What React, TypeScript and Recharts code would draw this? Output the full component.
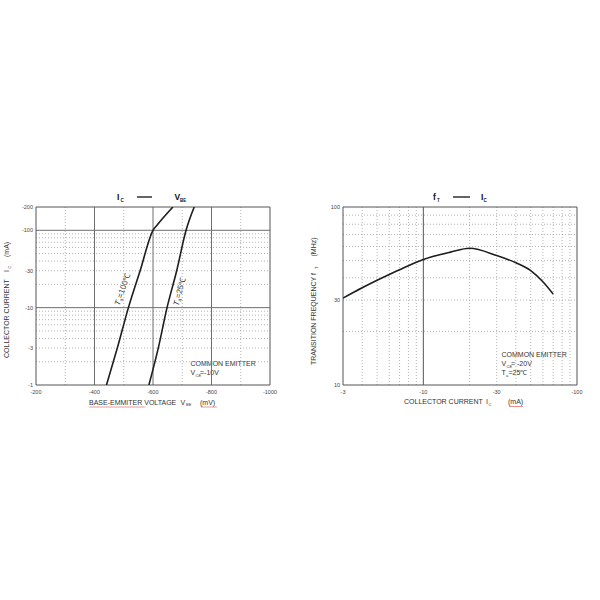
import React from 'react';
import { LineChart, Line, XAxis, YAxis, ReferenceLine } from 'recharts';

// ---------- Left chart: IC vs VBE (magnitudes; labels shown negative) ----------
const vbeTicks = [200, 400, 600, 800, 1000];
const icTicksLeft = [1, 3, 10, 30, 100, 200];
const ta100Vbe = [441, 478, 516, 556, 600, 615, 635, 668];
const ta100Ic = [1, 3, 10, 30, 100, 118, 145, 200];
const ta25Vbe = [586, 618, 648, 681, 713, 741];
const ta25Ic = [1, 3, 10, 30, 100, 200];
const leftMajorV = [400, 600, 800];
const leftMinorV = [300, 500, 700, 900];
const leftMajorH = [10, 100];
const leftMinorH = [2, 3, 4, 5, 6, 7, 8, 9, 20, 30, 40, 50, 60, 70, 80, 90];

// ---------- Right chart: fT vs IC ----------
const icTicksRight = [3, 10, 30, 100];
const ftTicks = [10, 30, 100];
const ftIc = [3, 4, 5, 6, 7, 8, 9, 10, 15, 20, 30, 40, 50, 60, 70];
const ftVals = [30.8, 35.2, 38.8, 41.8, 44.4, 46.8, 48.9, 50.7, 55.8, 58.6, 53.4, 48.6, 43.9, 38, 32.4];
const rightMajorV = [10];
const rightMinorV = [4, 5, 6, 7, 8, 9, 20, 30, 40, 50, 60, 70, 80, 90];
const rightMinorH = [20, 30, 40, 50, 60, 70, 80, 90];

const ta100Data = ta100Vbe.map((v, i) => ({ v, ic: ta100Ic[i] }));
const ta25Data = ta25Vbe.map((v, i) => ({ v, ic: ta25Ic[i] }));
const ftData = ftIc.map((ic, i) => ({ ic, ft: ftVals[i] }));

const FONT = '"Liberation Sans", Arial, sans-serif';
const neg = (v: number) => '-' + v;
const tickStyle = { fontSize: 5.5, fill: '#444', fontFamily: FONT };
const MINOR = '#a0a0a0';
const MAJOR = '#6e6e6e';
const FRAME = '#555';

const T = (props: any) => (
  <text fontFamily={FONT} fill="#333" fontSize={7} {...props} />
);

function LeftChart() {
  return (
    <LineChart width={290} height={220} margin={{ top: 17, right: 20, bottom: 0, left: 0 }}>
      <XAxis type="number" dataKey="v" domain={[200, 1000]} ticks={vbeTicks} allowDataOverflow
        tickFormatter={neg} axisLine={false} tickLine={false} tickSize={3} tickMargin={2} height={25} tick={tickStyle} />
      <YAxis type="number" dataKey="ic" scale="log" domain={[1, 200]} ticks={icTicksLeft} allowDataOverflow
        tickFormatter={neg} axisLine={false} tickLine={false} tickSize={2} tickMargin={1} width={36} tick={tickStyle} />
      {leftMinorH.map((y) => (
        <ReferenceLine key={'lh' + y} y={y} stroke={MINOR} strokeDasharray="1 2" strokeWidth={0.8} />
      ))}
      {leftMinorV.map((x) => (
        <ReferenceLine key={'lv' + x} x={x} stroke={MINOR} strokeDasharray="1 2" strokeWidth={0.8} />
      ))}
      {leftMajorH.map((y) => (
        <ReferenceLine key={'LH' + y} y={y} stroke={MAJOR} strokeWidth={1} />
      ))}
      {leftMajorV.map((x) => (
        <ReferenceLine key={'LV' + x} x={x} stroke={MAJOR} strokeWidth={1} />
      ))}
      <ReferenceLine x={200} stroke={FRAME} strokeWidth={1} />
      <ReferenceLine x={1000} stroke={FRAME} strokeWidth={1} />
      <ReferenceLine y={1} stroke={FRAME} strokeWidth={1} />
      <ReferenceLine y={200} stroke={FRAME} strokeWidth={1} />
      <Line data={ta100Data} dataKey="ic" type="monotone" stroke="#1e1e1e" strokeWidth={1.6} dot={false} isAnimationActive={false} />
      <Line data={ta25Data} dataKey="ic" type="monotone" stroke="#1e1e1e" strokeWidth={1.6} dot={false} isAnimationActive={false} />
      <g>
        <rect x={187} y={165} width={82} height={28} fill="#fff" />
        {/* title */}
        <T x={117} y={10} fontSize={8.5} fontWeight="bold" fill="#111">I</T>
        <T x={120.5} y={12} fontSize={4.5} fontWeight="bold" fill="#111">C</T>
        <line x1={137} y1={7} x2={152} y2={7} stroke="#111" strokeWidth={1.3} />
        <T x={174.5} y={10} fontSize={8.5} fontWeight="bold" fill="#111">V</T>
        <T x={180} y={12} fontSize={4.5} fontWeight="bold" fill="#111">BE</T>
        {/* x axis label */}
        <T x={89} y={214.5}>BASE-EMMITER VOLTAGE</T>
        <T x={180.5} y={214.5}>V</T>
        <T x={186} y={216} fontSize={4}>BE</T>
        <T x={200} y={214.5}>(mV)</T>
        <path d="M89 216.5 l1 1 l1 -1 l1 1 l1 -1 l1 1 l1 -1 l1 1 l1 -1 l1 1 l1 -1 l1 1 l1 -1 l1 1 l1 -1 l1 1 l1 -1 l1 1 l1 -1 l1 1 l1 -1 l1 1 l1 -1 l1 1 l1 -1 l1 1 l1 -1 l1 1 l1 -1 l1 1 l1 -1 l1 1 l1 -1 l1 1 l1 -1 l1 1 l1 -1 l1 1 l1 -1 l1 1 l1 -1 l1 1 l1 -1 l1 1 l1 -1 l1 1 l1 -1 l1 1 l1 -1 l1 1 l1 -1 l1 1 l1 -1 l1 1 l1 -1 l1 1 l1 -1"
          fill="none" stroke="#d44" strokeWidth={0.6} />
        <path d="M201 216.5 l1 1 l1 -1 l1 1 l1 -1 l1 1 l1 -1 l1 1 l1 -1 l1 1 l1 -1 l1 1 l1 -1 l1 1 l1 -1 l1 1 l1 -1"
          fill="none" stroke="#d44" strokeWidth={0.6} />
        {/* y axis label */}
        <T x={9} y={168} transform="rotate(-90 9 168)">COLLECTOR CURRENT</T>
        <T x={9} y={82} transform="rotate(-90 9 82)">I</T>
        <T x={10.5} y={78.5} fontSize={4} transform="rotate(-90 10.5 78.5)">C</T>
        <T x={9} y={67} transform="rotate(-90 9 67)">(mA)</T>
        {/* curve labels */}
        <T x={125} y={100} fontSize={8} textAnchor="middle" transform="rotate(-71 125 100)">
          <tspan fontStyle="italic">T</tspan><tspan fontSize={5} dy={1.5}>a</tspan><tspan dy={-1.5}>=100℃</tspan>
        </T>
        <T x={182} y={102} fontSize={8} textAnchor="middle" transform="rotate(-76 182 102)">
          <tspan fontStyle="italic">T</tspan><tspan fontSize={5} dy={1.5}>a</tspan><tspan dy={-1.5}>=25℃</tspan>
        </T>
        {/* annotation */}
        <T x={190.5} y={175.5}>COMMON EMITTER</T>
        <T x={190.5} y={185}>V</T>
        <T x={195.5} y={186.5} fontSize={4}>CE</T>
        <T x={200} y={185}>=-10V</T>
      </g>
    </LineChart>
  );
}

function RightChart() {
  return (
    <LineChart width={300} height={220} margin={{ top: 17, right: 23, bottom: 0, left: 0 }}>
      <XAxis type="number" dataKey="ic" scale="log" domain={[3, 100]} ticks={icTicksRight} allowDataOverflow
        tickFormatter={neg} axisLine={false} tickLine={false} tickSize={3} tickMargin={2} height={25} tick={tickStyle} />
      <YAxis type="number" dataKey="ft" scale="log" domain={[10, 100]} ticks={ftTicks} allowDataOverflow
        axisLine={false} tickLine={false} tickSize={2} tickMargin={1} width={43} tick={tickStyle} />
      {rightMinorH.map((y) => (
        <ReferenceLine key={'rh' + y} y={y} stroke={MINOR} strokeDasharray="1 2" strokeWidth={0.8} />
      ))}
      {rightMinorV.map((x) => (
        <ReferenceLine key={'rv' + x} x={x} stroke={MINOR} strokeDasharray="1 2" strokeWidth={0.8} />
      ))}
      {rightMajorV.map((x) => (
        <ReferenceLine key={'RV' + x} x={x} stroke={FRAME} strokeWidth={1} />
      ))}
      <ReferenceLine x={3} stroke={FRAME} strokeWidth={1} />
      <ReferenceLine x={100} stroke={FRAME} strokeWidth={1} />
      <ReferenceLine y={10} stroke={FRAME} strokeWidth={1} />
      <ReferenceLine y={100} stroke={FRAME} strokeWidth={1} />
      <Line data={ftData} dataKey="ft" type="monotone" stroke="#1e1e1e" strokeWidth={1.6} dot={false} isAnimationActive={false} />
      <g>
        <rect x={200} y={157} width={76} height={35} fill="#fff" />
        {/* title */}
        <T x={133} y={10} fontSize={8.5} fontWeight="bold" fill="#111">f</T>
        <T x={137} y={12} fontSize={4.5} fontWeight="bold" fill="#111">T</T>
        <line x1={153} y1={7} x2={170} y2={7} stroke="#111" strokeWidth={1.3} />
        <T x={181} y={10} fontSize={8.5} fontWeight="bold" fill="#111">I</T>
        <T x={183.5} y={12} fontSize={4.5} fontWeight="bold" fill="#111">C</T>
        {/* x label */}
        <T x={104} y={214}>COLLECTOR CURRENT</T>
        <T x={186} y={214}>I</T>
        <T x={188.5} y={215.5} fontSize={4}>C</T>
        <T x={208} y={214}>(mA)</T>
        <path d="M209 216 l1 1 l1 -1 l1 1 l1 -1 l1 1 l1 -1 l1 1 l1 -1 l1 1 l1 -1 l1 1 l1 -1 l1 1 l1 -1"
          fill="none" stroke="#d44" strokeWidth={0.6} />
        {/* y label */}
        <T x={16} y={175} transform="rotate(-90 16 175)">TRANSITION FREQUENCY f</T>
        <T x={17.5} y={79} fontSize={4} transform="rotate(-90 17.5 79)">T</T>
        <T x={16} y={66.5} transform="rotate(-90 16 66.5)">(MHz)</T>
        {/* annotation */}
        <T x={201.5} y={166.5}>COMMON EMITTER</T>
        <T x={201.5} y={176}>V</T>
        <T x={206.5} y={177.5} fontSize={4}>CE</T>
        <T x={211} y={176}>= -20V</T>
        <T x={201.5} y={185}>T</T>
        <T x={206} y={186.5} fontSize={4}>a</T>
        <T x={208.5} y={185}>=25℃</T>
      </g>
    </LineChart>
  );
}

export default function App() {
  return (
    <div style={{ position: 'absolute', left: 0, top: 0, width: 600, height: 600, background: '#fff' }}>
      <div style={{ position: 'absolute', left: 0, top: 190 }}>
        <LeftChart />
      </div>
      <div style={{ position: 'absolute', left: 300, top: 190 }}>
        <RightChart />
      </div>
    </div>
  );
}
